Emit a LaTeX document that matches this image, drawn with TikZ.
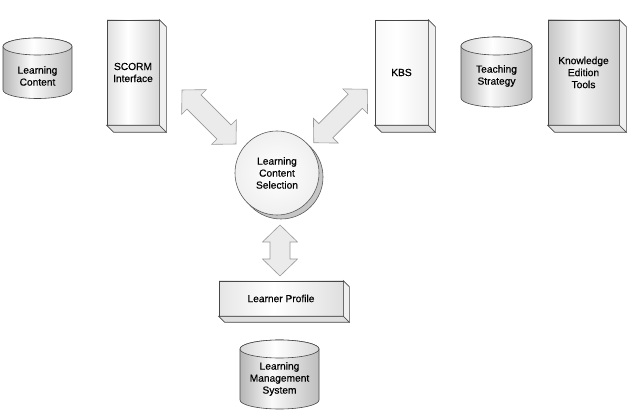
\documentclass[tikz,border=0pt]{standalone}
\usepackage{fontspec}
\setmainfont[FakeBold=0.5]{Liberation Sans}
\usetikzlibrary{calc}
\colorlet{cA}{gray!25}\colorlet{cB}{gray!32}
\colorlet{cC}{gray!5}\colorlet{cD}{gray!12}
\colorlet{cE}{gray!45}\colorlet{cF}{gray!8}\colorlet{cG}{gray!40}
\colorlet{cH}{gray!20}\colorlet{cI}{gray!25}
\colorlet{cJ}{gray!58}\colorlet{cK}{gray!4}\colorlet{cL}{gray!52}
\colorlet{cM}{gray!32}
\pgfdeclarehorizontalshading{shScorm}{100bp}{color(0bp)=(cA); color(25bp)=(cA); color(45bp)=(white); color(75bp)=(cB); color(100bp)=(cB)}
\pgfdeclarehorizontalshading{shKbs}{100bp}{color(0bp)=(cC); color(25bp)=(cC); color(45bp)=(white); color(75bp)=(cD); color(100bp)=(cD)}
\pgfdeclarehorizontalshading{shKet}{100bp}{color(0bp)=(cE); color(25bp)=(cE); color(46bp)=(cF); color(75bp)=(cG); color(100bp)=(cG)}
\pgfdeclarehorizontalshading{shLp}{100bp}{color(0bp)=(cH); color(25bp)=(cH); color(47bp)=(white); color(75bp)=(cI); color(100bp)=(cI)}
\pgfdeclarehorizontalshading{shDrum}{100bp}{color(0bp)=(cJ); color(25bp)=(cJ); color(45bp)=(cK); color(75bp)=(cL); color(100bp)=(cL)}
\pgfdeclarehorizontalshading{shDrumTop}{100bp}{color(0bp)=(cM); color(25bp)=(cM); color(47bp)=(white); color(75bp)=(cM); color(100bp)=(cM)}
\newcommand\solidbox[2]{%
  \draw[sideface] (#1.north east) -- ++(#2,#2) -- ($(#1.south east)+(#2,#2)$) -- (#1.south east) -- cycle;
  \draw[bottomface] (#1.south west) -- ++(#2,#2) -- ($(#1.south east)+(#2,#2)$) -- (#1.south east) -- cycle;
}
% name, x1, x2, yt, yb, rx, ry
\newcommand\drumshape[7]{%
  \draw[drumbody] (#2,#4) -- (#2,#5) arc[start angle=180,end angle=0,x radius=#6,y radius=#7]
     -- (#3,#4) arc[start angle=0,end angle=-180,x radius=#6,y radius=#7] -- cycle;
  \draw[drumtop] ($(#2,#4)!0.5!(#3,#4)$) ellipse[x radius=#6,y radius=#7];
}
% center coordinate, angle, half length
\newcommand\blockarrow[3]{%
  \begin{scope}[shift={(#1)},rotate=#2]
    \draw[barrow] (-#3,0) -- (-#3+17,-17.5) -- (-#3+17,-10) -- (#3-17,-10) -- (#3-17,-17.5)
      -- (#3,0) -- (#3-17,17.5) -- (#3-17,10) -- (-#3+17,10) -- (-#3+17,17.5) -- cycle;
  \end{scope}
}
\begin{document}
\begin{tikzpicture}[x=1pt,y=-1pt,
  every node/.style={font=\fontsize{10.2}{12}\selectfont, text=black, align=center},
  outline/.style={draw=black!72, line width=0.6pt},
  front/.style={outline, inner sep=0pt},
  sideface/.style={outline, fill=gray!12},
  bottomface/.style={outline, fill=gray!25},
  barrow/.style={draw=gray!80, fill=gray!16, line width=0.6pt},
  drumbody/.style={outline, shading=shDrum},
  drumtop/.style={outline, shading=shDrumTop},
  ]
\useasboundingbox (0,0) rectangle (642,411);

% cylinders
\drumshape{lc}{3}{72}{46.5}{90}{34.5}{8.5}
\node (lc) at (37.5,76) {Learning\\Content};
\drumshape{ts}{461}{532}{46}{98}{35.5}{9}
\node (ts) at (496.5,76) {Teaching\\Strategy};
\drumshape{lms}{240}{319}{349}{400}{39.5}{9}
\node (lms) at (279.5,379) {Learning\\Management\\System};

% boxes
\node[front, minimum width=52pt, minimum height=105pt, shading=shScorm]
  (scorm) at (133,72.5) {SCORM\\Interface};
\solidbox{scorm}{7}
\node[front, minimum width=53pt, minimum height=105pt, shading=shKbs]
  (kbs) at (401.5,72.5) {KBS};
\solidbox{kbs}{7}
\node[front, minimum width=71pt, minimum height=105pt, shading=shKet]
  (ket) at (583.5,72.5) {Knowledge\\Edition\\Tools};
\solidbox{ket}{7}
\node[front, minimum width=124pt, minimum height=35pt, shading=shLp]
  (lp) at (281,298.5) {Learner Profile};
\solidbox{lp}{6}

% selection circle
\draw[draw=black!65, line width=0.6pt, fill=gray!45] (281,177) circle[radius=42];
\node[circle, inner sep=0pt, minimum size=84pt, draw=black!65, line width=0.6pt, inner color=white, outer color=gray!12]
  (lcs) at (277,173) {Learning\\Content\\Selection};

% block arrows
\coordinate (arrL) at (209,117);
\coordinate (arrR) at (340.5,116);
\coordinate (arrV) at (280,250.5);
\blockarrow{arrL}{-45}{38.2}
\blockarrow{arrR}{45}{37.8}
\blockarrow{arrV}{90}{25.5}
\end{tikzpicture}
\end{document}
